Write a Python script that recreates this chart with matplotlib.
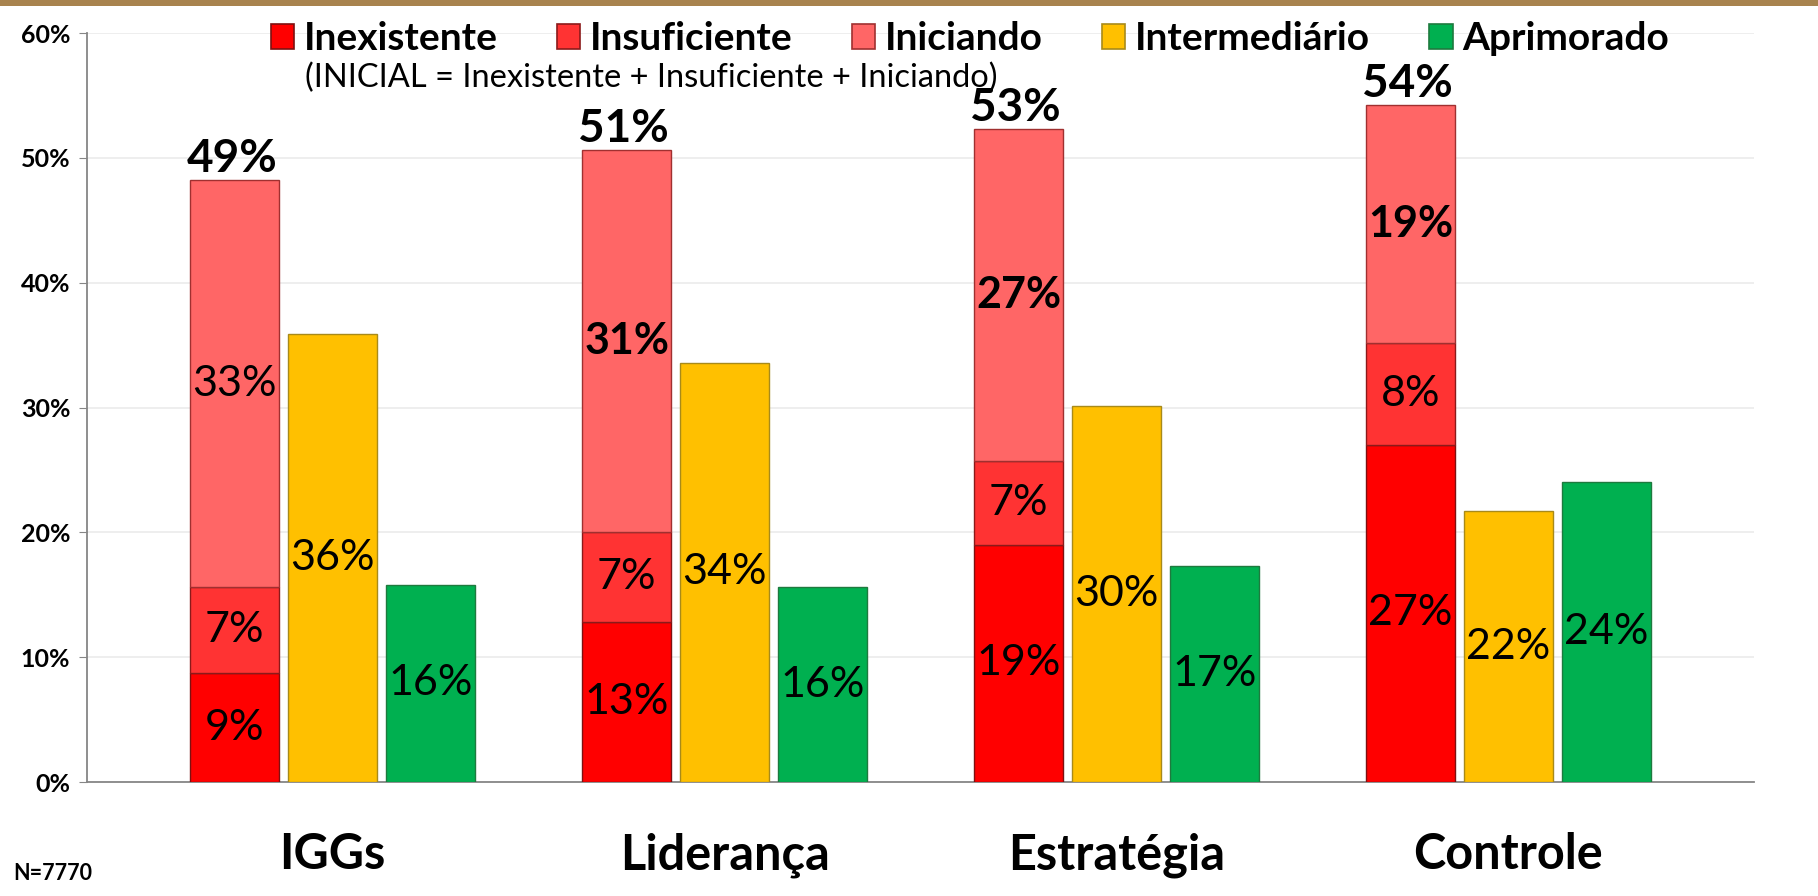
import matplotlib
matplotlib.use("Agg")
import matplotlib.pyplot as plt
from matplotlib.patches import Patch, Rectangle
import numpy as np

plt.rcParams['font.family'] = ['Lato', 'DejaVu Sans']

categories = ["IGGs", "Liderança", "Estratégia", "Controle"]
inexistente = [8.7, 12.8, 19.0, 27.0]
insuficiente = [6.9, 7.2, 6.7, 8.2]
iniciando = [32.6, 30.6, 26.6, 19.0]
intermediario = [35.9, 33.6, 30.1, 21.7]
aprimorado = [15.8, 15.6, 17.3, 24.0]
inicial_total = [49, 51, 53, 54]
iniciando_bold = [False, True, True, True]
series_names = ["Inexistente", "Insuficiente", "Iniciando", "Intermediário", "Aprimorado"]
yticks = [0, 10, 20, 30, 40, 50, 60]

colors = ["#FF0000", "#FF3333", "#FF6666", "#FFC000", "#00B050"]
edges = ["#7F1010", "#8B1A1A", "#A03030", "#A88A1A", "#1E7A3E"]

W, H = 1818, 896
fig = plt.figure(figsize=(W / 100, H / 100), dpi=100)
fig.patch.set_facecolor("white")

# top decorative band
fig.patches.append(Rectangle((0, 1 - 6 / H), 1, 6 / H, transform=fig.transFigure,
                             facecolor="#A8834E", edgecolor="none", zorder=0))

left, right, bottom, top = 87, 1754, 782, 33
ax = fig.add_axes([left / W, 1 - bottom / H, (right - left) / W, (bottom - top) / H])

x = np.arange(len(categories))
bw = 0.227
off = 0.25
label_fs = 31

base = np.zeros(len(categories))
stack = [inexistente, insuficiente, iniciando]
for i, vals in enumerate(stack):
    vals = np.array(vals)
    bars = ax.bar(x - off, vals, bw, bottom=base, color=colors[i], edgecolor=edges[i],
                  linewidth=1.0, zorder=3)
    for j, b in enumerate(bars):
        bold = (i == 2 and iniciando_bold[j])
        ax.text(b.get_x() + b.get_width() / 2, base[j] + vals[j] / 2, f"{vals[j]:.0f}%",
                ha="center", va="center", fontsize=label_fs,
                fontweight="bold" if bold else "normal", zorder=4)
    base = base + vals

for k, tot in enumerate(inicial_total):
    ax.annotate(f"{tot}%", (x[k] - off, base[k]), xytext=(-2, 0), textcoords="offset points",
                ha="center", va="bottom", fontsize=33, fontweight="bold", zorder=4)

for vals, c, e, dx in [(intermediario, colors[3], edges[3], 0), (aprimorado, colors[4], edges[4], off)]:
    bars = ax.bar(x + dx, vals, bw, color=c, edgecolor=e, linewidth=1.0, zorder=3)
    for j, b in enumerate(bars):
        ax.text(b.get_x() + b.get_width() / 2, vals[j] / 2, f"{vals[j]:.0f}%",
                ha="center", va="center", fontsize=label_fs, zorder=4)

ax.set_xlim(-0.627, 3.627)
ax.set_ylim(0, 60)
ax.set_yticks(yticks)
ax.set_yticklabels([f"{t}%" for t in yticks], fontsize=18, fontweight="bold")
ax.set_xticks(x)
ax.set_xticklabels(categories, fontsize=35, fontweight="bold")
ax.tick_params(axis="x", length=0, pad=36)
ax.tick_params(axis="y", length=6, color="#868686", pad=6)
ax.yaxis.grid(True, color="#EBEBEB", linewidth=1.2, zorder=0)
ax.set_axisbelow(True)
for s in ["top", "right"]:
    ax.spines[s].set_visible(False)
for s in ["left", "bottom"]:
    ax.spines[s].set_color("#868686")
    ax.spines[s].set_linewidth(1.3)

handles = [Patch(facecolor=colors[i], edgecolor=edges[i], linewidth=1.2) for i in range(5)]
fig.legend(handles, series_names, loc="center", bbox_to_anchor=(970 / W, 1 - 39 / H),
           ncol=5, frameon=False, prop={"weight": "bold", "size": 28},
           handlelength=0.6, handleheight=0.6, handletextpad=0.25, columnspacing=1.52,
           borderpad=0)

fig.text(651 / W, 1 - 78 / H, "(INICIAL = Inexistente + Insuficiente + Iniciando)",
         ha="center", va="center", fontsize=23.5)

fig.text(13 / W, 1 - 873 / H, "N=7770", ha="left", va="center", fontsize=15.5, fontweight="bold")

fig.savefig("out.png", dpi=100, facecolor="white")
